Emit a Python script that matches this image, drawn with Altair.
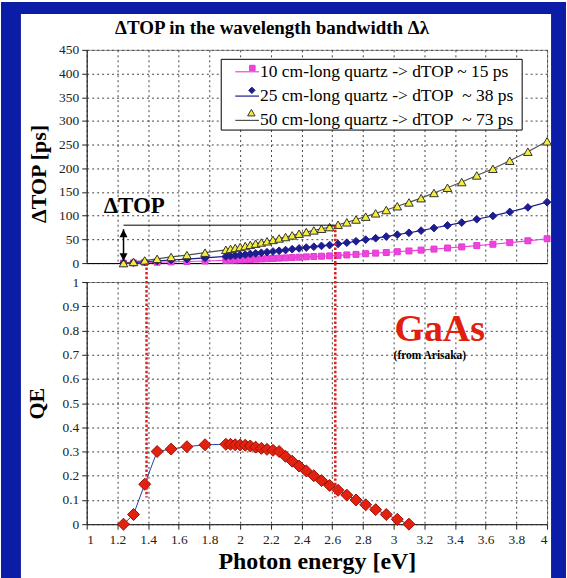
import altair as alt
import pandas as pd

# Photon energies (eV) of the sampled wavelengths, 1000 nm down to 310 nm
energy_ev = [1.240, 1.305, 1.378, 1.459, 1.550, 1.653, 1.771, 1.907, 1.937, 1.968,
             2.000, 2.033, 2.066, 2.101, 2.138, 2.175, 2.214, 2.254, 2.296, 2.339,
             2.384, 2.431, 2.480, 2.530, 2.583, 2.638, 2.695, 2.755, 2.818, 2.883,
             2.952, 3.024, 3.100, 3.179, 3.263, 3.351, 3.444, 3.542, 3.647, 3.757,
             3.875, 4.000]

# Time-of-propagation spread (ps) relative to 1000 nm, per quartz length
dtop_10cm = [0, 0.5, 1.1, 1.8, 2.6, 3.4, 4.4, 5.6, 6.0, 6.4,
             6.8, 7.2, 7.7, 8.2, 8.7, 9.2, 9.8, 10.4, 11.0, 11.7,
             12.4, 13.1, 13.8, 14.5, 15.2, 16.2, 17.2, 18.4, 19.8, 21.0,
             22.4, 24.0, 25.6, 27.4, 29.6, 31.8, 34.2, 37.0, 39.8, 43.2,
             47.0, 51.4]
dtop_25cm = [0, 1.2, 2.8, 4.5, 6.5, 8.5, 11.0, 14.0, 15.0, 16.0,
             17.0, 18.0, 19.3, 20.5, 21.8, 23.0, 24.5, 26.0, 27.5, 29.3,
             31.0, 32.8, 34.5, 36.3, 38.0, 40.5, 43.0, 46.0, 49.5, 52.5,
             56.0, 60.0, 64.0, 68.5, 74.0, 79.5, 85.5, 92.5, 99.5, 108.0,
             117.5, 128.5]
dtop_50cm = [0, 2.5, 5.5, 9.0, 13.0, 17.0, 22.0, 28.0, 30.0, 32.0,
             34.0, 36.0, 38.5, 41.0, 43.5, 46.0, 49.0, 52.0, 55.0, 58.5,
             62.0, 65.5, 69.0, 72.5, 76.0, 81.0, 86.0, 92.0, 98.0, 105.0,
             112.0, 120.0, 128.0, 137.0, 148.0, 159.0, 171.0, 185.0, 199.0, 216.0,
             235.0, 257.0]

# GaAs photocathode quantum efficiency, 1000 nm down to 400 nm
qe_energy_ev = [1.240, 1.305, 1.378, 1.459, 1.550, 1.653, 1.771, 1.907, 1.937, 1.968,
                2.000, 2.033, 2.066, 2.101, 2.138, 2.175, 2.214, 2.254, 2.296, 2.339,
                2.384, 2.431, 2.480, 2.530, 2.583, 2.638, 2.695, 2.755, 2.818, 2.883,
                2.952, 3.024, 3.100]
qe_gaas = [0.0, 0.04, 0.165, 0.30, 0.31, 0.32, 0.328, 0.33, 0.33, 0.328,
           0.327, 0.326, 0.323, 0.318, 0.313, 0.309, 0.305, 0.300, 0.28, 0.26,
           0.24, 0.22, 0.20, 0.18, 0.16, 0.14, 0.12, 0.10, 0.08, 0.06,
           0.04, 0.02, 0.0]

series_labels = ["10 cm-long quartz -> dTOP ~ 15 ps",
                 "25 cm-long quartz -> dTOP\u00a0 ~ 38 ps",
                 "50 cm-long quartz -> dTOP\u00a0 ~ 73 ps"]

x_ticks = [1, 1.2, 1.4, 1.6, 1.8, 2, 2.2, 2.4, 2.6, 2.8, 3, 3.2, 3.4, 3.6, 3.8, 4]
dtop_ticks = [0, 50, 100, 150, 200, 250, 300, 350, 400, 450]
qe_ticks = [0, 0.1, 0.2, 0.3, 0.4, 0.5, 0.6, 0.7, 0.8, 0.9, 1]

band_edges_ev = [1.39, 2.62]     # GaAs sensitive window drawn as dotted red lines
band_rule_top = [1.078, 1.078]   # QE value where the dotted lines start (top edge of gap)
band_rule_low = [0.11, 0.11]     # QE value where the dotted lines end
dtop_ref_ev = 1.24               # start of the ΔTOP bracket
dtop_bracket_ps = 80             # level of the bracket line
dtop_arrow_ps = [71.5, 4.2]      # arrow tips

SERIF = "'Liberation Serif', 'Times New Roman', Times, 'DejaVu Serif', serif"
W = 462
H_TOP = 214
H_QE = 243

# ---------------------------------------------------------------- top panel
top_df = pd.DataFrame({
    "energy": energy_ev * 3,
    "dtop": dtop_10cm + dtop_25cm + dtop_50cm,
    "series": [series_labels[0]] * len(energy_ev)
    + [series_labels[1]] * len(energy_ev)
    + [series_labels[2]] * len(energy_ev),
})

x_scale = alt.Scale(domain=[1, 4], nice=False, zero=False)
dtop_scale = alt.Scale(domain=[0, 450], nice=False)
qe_scale = alt.Scale(domain=[0, 1], nice=False)

top_x_axis = alt.Axis(values=x_ticks, labels=False, ticks=False, title=None,
                      grid=True, domainColor="black")
top_y_axis = alt.Axis(values=dtop_ticks, title="ΔTOP [ps]", titleFontSize=22,
                      titlePadding=8, titleY=124, tickSize=5, labelPadding=3, grid=True)


def tx(field):
    return alt.X(f"{field}:Q", scale=x_scale, axis=top_x_axis)


def ty(field):
    return alt.Y(f"{field}:Q", scale=dtop_scale, axis=top_y_axis)


styles = [
    # line colour, marker shape, fill, outline, marker size, legend marker size
    ("#ee44dd", "square", "#ee44dd", "#e03ad0", 36, 30),
    ("#1d1d8f", "diamond", "#1d1d8f", "#1d1d8f", 60, 42),
    ("#505050", "triangle-up", "#f4ee3a", "#333333", 75, 56),
]

top_layers = []
for label, (lc, shp, fc, sc, sz, _) in zip(series_labels, styles):
    sub = alt.Chart(top_df).transform_filter(alt.datum.series == label)
    top_layers.append(sub.mark_line(color=lc, strokeWidth=1.2)
                      .encode(x=tx("energy"), y=ty("dtop")))
    top_layers.append(sub.mark_point(shape=shp, filled=True, fill=fc, stroke=sc,
                                     strokeWidth=1, size=sz, opacity=1)
                      .encode(x=tx("energy"), y=ty("dtop")))

# legend: framed white box with coloured line samples and labels ...
LEG_X, LEG_Y = 135, 9.5
LEG_W, LEG_H = 302, 71
ROW_GAP = 3.4

legend_box = alt.Chart(pd.DataFrame({"k": [0]})).mark_rect(
    fill="white", stroke="black", strokeWidth=1, opacity=1).encode(
    x=alt.value(LEG_X), x2=alt.value(LEG_X + LEG_W),
    y=alt.value(LEG_Y), y2=alt.value(LEG_Y + LEG_H))

line_legend = alt.Legend(
    title=None, orient="none", legendX=LEG_X, legendY=LEG_Y, direction="vertical",
    labelFont=SERIF, labelFontSize=17.5, labelColor="black", labelLimit=600,
    symbolType="stroke", symbolSize=566, symbolStrokeWidth=1.2, symbolOffset=13.5,
    labelOffset=0.5, padding=0, rowPadding=ROW_GAP)
legend_lines = alt.Chart(top_df).transform_filter("false").mark_line().encode(
    x=tx("energy"), y=ty("dtop"),
    stroke=alt.Stroke("series:N", scale=alt.Scale(domain=series_labels, range=[s[0] for s in styles]),
                      legend=line_legend),
)

# ... with the series marker laid over the middle of each line sample
marker_layers = []
for i, (lc, shp, fc, sc, sz, lsz) in enumerate(styles):
    shapes = [shp if j == i else "M0,0" for j in range(3)]
    half = -(-((lsz ** 0.5) + 1) // 1) / 2
    mk_legend = alt.Legend(title=None, orient="none", legendX=LEG_X, legendY=LEG_Y,
                           direction="vertical", labelExpr="'\u00a0'", labelFont=SERIF,
                           labelFontSize=17.5, labelOffset=0, padding=0, rowPadding=ROW_GAP,
                           symbolSize=lsz, symbolStrokeWidth=1, symbolOffset=26 - half)
    marker_layers.append(
        alt.Chart(top_df).transform_filter("false").transform_calculate(
            label="datum.series").mark_point(
            filled=True, fill=fc, stroke=sc, strokeWidth=1, opacity=1).encode(
            x=tx("energy"), y=ty("dtop"),
            shape=alt.Shape("label:N", scale=alt.Scale(domain=series_labels, range=shapes),
                            legend=mk_legend)))

bracket_df = pd.DataFrame({"x": [dtop_ref_ev], "x2": [band_edges_ev[1]], "y": [dtop_bracket_ps]})
bracket = alt.Chart(bracket_df).mark_rule(color="black", strokeWidth=1).encode(
    x=tx("x"), x2="x2:Q", y=ty("y"))

arrow_df = pd.DataFrame({"x": [dtop_ref_ev], "y": [dtop_arrow_ps[0]], "y2": [dtop_arrow_ps[1]]})
arrow_shaft = alt.Chart(arrow_df).mark_rule(color="black", strokeWidth=1.5).encode(
    x=tx("x"), y=ty("y"), y2="y2:Q")
head_df = pd.DataFrame({"x": [dtop_ref_ev, dtop_ref_ev], "y": dtop_arrow_ps, "dir": ["up", "down"]})
arrow_heads = alt.Chart(head_df).mark_point(filled=True, color="black", size=256, opacity=1).encode(
    x=tx("x"), y=ty("y"),
    shape=alt.Shape("dir:N", scale=alt.Scale(domain=["up", "down"],
                                             range=["M0,0L-0.5,1L0.5,1Z", "M0,0L-0.5,-1L0.5,-1Z"]),
                    legend=None))

dtop_label = alt.Chart(pd.DataFrame({"x": [1.31], "y": [105], "t": ["ΔTOP"]})).mark_text(
    font=SERIF, fontSize=23, fontWeight="bold", color="black", baseline="alphabetic").encode(
    x=tx("x"), y=ty("y"), text="t:N")

edge_top_df = pd.DataFrame({"x": [band_edges_ev[1]], "y": [dtop_bracket_ps], "y2": [0]})
edge_top = alt.Chart(edge_top_df).mark_rule(color="#dd1f1f", strokeWidth=2.5, strokeDash=[2.5, 2]).encode(
    x=tx("x"), y=ty("y"), y2="y2:Q")

top = alt.layer(legend_box, *top_layers, bracket, arrow_shaft, arrow_heads, dtop_label, edge_top,
                legend_lines, *marker_layers).resolve_scale(
    shape="independent").resolve_legend(shape="independent").properties(
    width=W, height=H_TOP,
    title=alt.TitleParams("ΔTOP in the wavelength bandwidth Δλ", font=SERIF, fontSize=19,
                          fontWeight="bold", color="black", anchor="middle", frame="group",
                          dx=-45, offset=5))

# ---------------------------------------------------------------- QE panel
qe_df = pd.DataFrame({"energy": qe_energy_ev, "qe": qe_gaas})

qe_x_axis = alt.Axis(values=x_ticks, format="~g", title="Photon energy [eV]", titleFontSize=24,
                     titlePadding=4, tickSize=5, labelPadding=3, grid=True)
qe_y_axis = alt.Axis(values=qe_ticks, format="~g", title="QE", titleFontSize=22,
                     titlePadding=13, tickSize=5, labelPadding=3, grid=True)


def bx(field):
    return alt.X(f"{field}:Q", scale=x_scale, axis=qe_x_axis)


def by(field):
    return alt.Y(f"{field}:Q", scale=qe_scale, axis=qe_y_axis)


qe_line = alt.Chart(qe_df).mark_line(color="#2b3fa8", strokeWidth=1).encode(x=bx("energy"), y=by("qe"))
qe_points = alt.Chart(qe_df).mark_point(shape="diamond", filled=True, fill="#e2210f", stroke="#9a1208",
                                        strokeWidth=1, size=144, opacity=1).encode(x=bx("energy"), y=by("qe"))

edges_df = pd.DataFrame({"x": band_edges_ev, "y": band_rule_top, "y2": band_rule_low})
edges = alt.Chart(edges_df).mark_rule(color="#dd1f1f", strokeWidth=2.5, strokeDash=[2.5, 2]).encode(
    x=bx("x"), y=by("y"), y2="y2:Q")

gaas = alt.Chart(pd.DataFrame({"x": [3.30], "y": [0.757], "t": ["GaAs"]})).mark_text(
    font=SERIF, fontSize=38, fontWeight="bold", color="#e0200c", baseline="alphabetic").encode(
    x=bx("x"), y=by("y"), text="t:N")
source = alt.Chart(pd.DataFrame({"x": [3.0], "y": [0.695], "t": ["(from Arisaka)"]})).mark_text(
    font=SERIF, fontSize=11.5, fontWeight="bold", color="black", align="left", baseline="middle").encode(
    x=bx("x"), y=by("y"), text="t:N")

# slide frame around the white panel
frame_df = pd.DataFrame({"x": [-86, -86, 466], "x2": [-66, 481, 481],
                         "y": [-281, -281, -281], "y2": [297, -269, 297]})
frame = alt.Chart(frame_df).mark_rect(color="#0b1ca6", opacity=1).encode(
    x=alt.X("x:Q", scale=None), x2="x2:Q", y=alt.Y("y:Q", scale=None), y2="y2:Q")

bottom = alt.layer(qe_line, qe_points, edges, gaas, source, frame).properties(width=W, height=H_QE)

chart = alt.vconcat(top, bottom, spacing=19, bounds="flush", padding=0).properties(
    background="white"
).configure_view(
    stroke="#8c8c8c", strokeWidth=1
).configure_axis(
    labelFont=SERIF, labelFontSize=13.5, labelColor="#222222",
    titleFont=SERIF, titleFontWeight="bold", titleColor="black",
    gridColor="#444444", gridDash=[2, 3], gridWidth=1, gridOpacity=1,
    domainColor="#222222", tickColor="#222222",
)

chart.save("out.html", embed_options={"renderer": "svg", "actions": False})
